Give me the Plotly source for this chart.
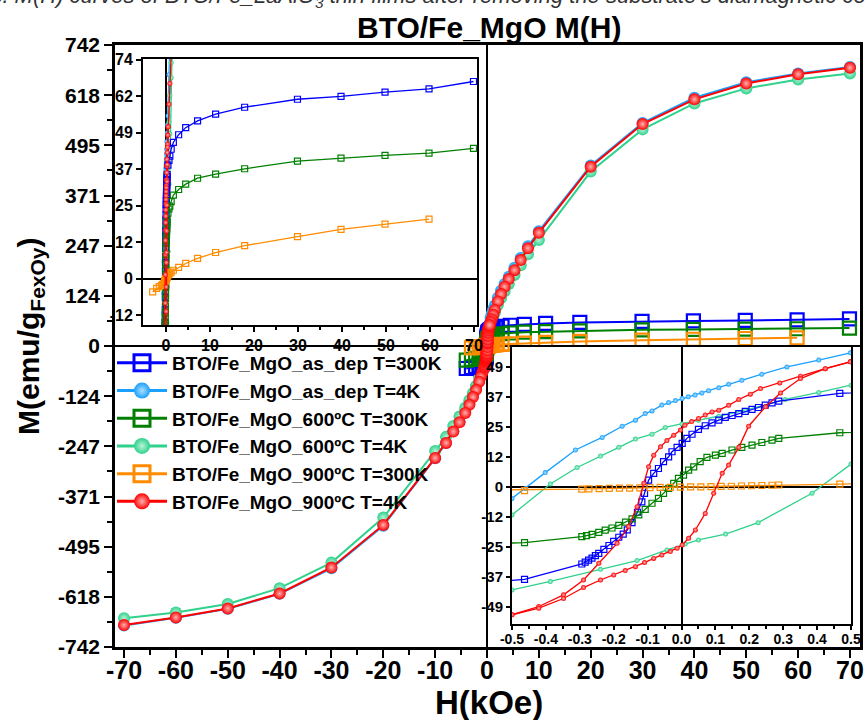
import plotly.graph_objects as go

W, H = 865, 720

# ---------------------------------------------------------------
# Field sweeps, H in kOe, M in emu/g(FexOy)
# ---------------------------------------------------------------
# 300 K sweeps (descending field)
H_asdep_300 = [69.9, 59.8, 49.8, 39.8, 29.9, 17.9, 11.3, 7.2, 4.5, 2.9, 1.7, 1.2, 0.9, 0.7,
               0.467, 0.287, 0.267, 0.247, 0.227, 0.208, 0.188, 0.169, 0.149, 0.129, 0.110,
               0.090, 0.070, 0.050, 0.031, 0.016, 0.002, -0.013, -0.028, -0.038, -0.053,
               -0.068, -0.082, -0.097, -0.109, -0.117, -0.130, -0.146, -0.160, -0.172,
               -0.185, -0.200, -0.214, -0.229, -0.244, -0.254, -0.264, -0.274, -0.284,
               -0.294, -0.463, -0.7, -1.0, -1.5, -2.2, -3.0, -4.0]
M_asdep_300 = [66.7, 64.2, 63.1, 61.7, 60.7, 58.0, 55.7, 53.4, 51.1, 48.7, 46.1, 43.8, 41.5, 40.0,
               38.4, 35.2, 34.5, 33.6, 32.6, 31.8, 31.0, 30.1, 29.3, 28.5, 27.4,
               26.3, 25.1, 23.6, 21.6, 19.9, 17.8, 16.2, 14.4, 12.3, 10.3,
               7.5, 5.5, 2.7, -2.7, -6.2, -10.5, -14.8, -17.8, -19.5,
               -20.8, -22.5, -24.2, -25.8, -27.4, -28.4, -29.4, -30.2, -31.0,
               -31.8, -38.1, -41.5, -44.5, -47.5, -50.5, -53.0, -55.5]

H_600_300 = [69.9, 59.8, 49.8, 39.8, 29.9, 17.9, 11.3, 7.2, 4.5, 2.9, 1.7, 1.2, 0.9, 0.7,
             0.467, 0.287, 0.267, 0.237, 0.208, 0.178, 0.149, 0.120, 0.100, 0.075, 0.055,
             0.036, 0.021, 0.006, -0.009, -0.023, -0.038, -0.053, -0.068, -0.087, -0.107,
             -0.126, -0.146, -0.165, -0.185, -0.205, -0.225, -0.244, -0.264, -0.280,
             -0.294, -0.463, -0.7, -1.0, -1.5, -2.2, -3.0, -4.0]
M_600_300 = [44.1, 42.5, 41.7, 40.8, 39.8, 37.2, 35.4, 34.0, 32.0, 30.2, 28.3, 26.1, 24.6, 23.6,
             22.2, 19.9, 19.2, 18.2, 17.1, 16.2, 15.1, 13.7, 13.0, 12.1, 10.3,
             8.2, 6.8, 4.8, 3.4, 1.4, -0.7, -2.7, -4.8, -6.8, -9.3,
             -11.6, -13.2, -14.6, -15.9, -17.0, -17.9, -18.8, -19.6, -20.1,
             -20.5, -23.0, -24.8, -26.8, -29.0, -31.2, -33.2, -35.0]

H_900_300 = [59.8, 49.8, 39.8, 29.9, 17.9, 11.3, 7.2, 4.5, 2.9, 1.7, 1.2, 0.9, 0.7,
             0.467, 0.287, 0.267, 0.237, 0.207, 0.177, 0.147, 0.117, 0.087, 0.057, 0.027,
             -0.003, -0.033, -0.063, -0.093, -0.123, -0.153, -0.183, -0.213, -0.243,
             -0.273, -0.294, -0.463, -0.7, -1.0, -1.5, -2.1, -3.0]
M_900_300 = [20.2, 18.5, 16.7, 14.3, 11.2, 8.9, 6.9, 5.2, 3.9, 2.9, 2.3, 1.9, 1.6,
             1.1, 0.7, 0.6, 0.5, 0.4, 0.3, 0.2, 0.1, 0.0, -0.1, -0.1,
             -0.2, -0.3, -0.3, -0.4, -0.5, -0.6, -0.6, -0.7, -0.8,
             -0.9, -1.0, -1.6, -1.9, -2.2, -2.6, -3.2, -4.4]

# 4 K loops: descending branch (+70 -> -70) and ascending inner branch
H_asdep_4_dn = [70, 60, 50, 40, 30, 20, 10, 7.9, 6.5, 5.3, 4.2, 3.4, 2.7, 2.1, 1.5, 1.2, 0.9, 0.7,
                0.498, 0.405, 0.311, 0.237, 0.178, 0.139, 0.110, 0.080, 0.060, 0.040, 0.020,
                0.002, -0.018, -0.038, -0.058, -0.087, -0.107, -0.136, -0.175, -0.234, -0.313,
                -0.402, -0.46, -0.5, -0.7, -0.9, -1.2, -1.5, -2.1, -2.7, -3.4, -4.2, -5.3,
                -6.5, -7.9, -10, -20, -30, -40, -50, -60, -70]
M_asdep_4_dn = [688, 672, 650, 612, 550, 445, 283, 246, 217, 193, 171, 153, 136, 119, 100, 90, 79, 69,
                55.1, 52.1, 49.3, 46.3, 43.8, 42.2, 40.7, 39.5, 38.6, 37.7, 37.0,
                36.3, 35.5, 34.7, 33.6, 31.2, 30.1, 27.4, 24.9, 20.3, 15.1,
                5.8, -0.7, -4.8, -22, -38, -57, -74, -99, -120, -141, -162, -186,
                -210, -239, -277, -443, -548, -611, -648, -670, -689]

H_600_4_dn = [70, 60, 50, 40, 30, 20, 10, 7.9, 6.5, 5.3, 4.2, 3.4, 2.7, 2.1, 1.5, 1.2, 0.9, 0.7,
              0.5, 0.405, 0.306, 0.188, 0.11, 0.05, 0.0015, -0.048, -0.087, -0.136, -0.185,
              -0.239, -0.308, -0.387, -0.5, -0.7, -0.9, -1.2, -1.5, -2.1, -2.7, -3.4, -4.2,
              -5.3, -6.5, -7.9, -10, -20, -30, -40, -50, -60, -70]
M_600_4_dn = [672, 657, 635, 598, 534, 430, 261, 226, 199, 175, 153, 135, 118, 101, 83, 73, 62, 53,
              41.8, 38.8, 35.9, 31.5, 29.0, 27.4, 25.8, 24.4, 21.6, 19.6, 16.2,
              12.6, 7.9, 1.1, -11.6, -31, -47, -64, -79, -99, -116, -134, -152,
              -174, -197, -224, -259, -423, -534, -597, -636, -657, -671]
H_600_4_up = [-1.2, -0.9, -0.7, -0.5, -0.387, -0.239, -0.131, -0.043, 0.011, 0.05, 0.13,
              0.226, 0.385, 0.5, 0.7, 0.9, 1.2, 1.5]
M_600_4_up = [-64, -55, -49, -42.5, -39.0, -34.0, -30.4, -26.0, -23.6, -21.9, -19.5,
              -14.8, -2.7, 9.3, 32, 49, 68, 83]

H_900_4_dn = [70, 60, 50, 40, 30, 20, 10, 7.9, 6.5, 5.3, 4.2, 3.4, 2.7, 2.1, 1.5, 1.2, 0.9, 0.7,
              0.498, 0.424, 0.351, 0.29, 0.233, 0.203, 0.169, 0.139, 0.11, 0.09, 0.07, 0.05,
              0.03, 0.01, -0.003, -0.023, -0.043, -0.062, -0.082, -0.097, -0.111, -0.131,
              -0.156, -0.19, -0.244, -0.289, -0.348, -0.421, -0.5, -0.7, -0.9, -1.2, -1.5,
              -2.1, -2.7, -3.4, -4.2, -5.3, -6.5, -7.9, -10, -20, -30, -40, -50, -60, -70]
M_900_4_dn = [686, 670, 647, 608, 547, 442, 279, 241, 212, 187, 165, 146, 128, 110, 89, 77, 66, 59,
              51.4, 48.6, 45.5, 42.7, 40.4, 38.1, 35.9, 33.5, 31.5, 30.8, 29.5, 28.1,
              26.8, 25.3, 23.3, 21.2, 19.0, 16.4, 13.0, 8.2, 1.4, -8.2,
              -16.4, -23.3, -31.5, -38.4, -44.5, -49.3, -52.7, -59, -66, -76, -88,
              -108, -126, -145, -165, -188, -211, -239, -276, -441, -546, -610, -647, -669, -688]
H_900_4_up = [-0.5, -0.421, -0.348, -0.289, -0.239, -0.2, -0.166, -0.136, -0.109, -0.082,
              -0.058, -0.033, -0.013, 0.002, 0.021, 0.041, 0.07, 0.095, 0.12, 0.139, 0.169,
              0.198, 0.248, 0.292, 0.351, 0.424, 0.498]
M_900_4_up = [-52.7, -50.0, -46.0, -41.5, -38.4, -36.3, -34.5, -32.9, -31.2, -29.5,
              -28.1, -26.7, -25.3, -24.0, -21.2, -17.8, -11.0, -2.7, 5.5, 8.9, 16.2,
              24.9, 32.9, 38.6, 44.5, 48.6, 51.4]

SERIES_NAMES = ["BTO/Fe_MgO_as_dep T=300K", "BTO/Fe_MgO_as_dep T=4K",
                "BTO/Fe_MgO_600ºC T=300K", "BTO/Fe_MgO_600ºC T=4K",
                "BTO/Fe_MgO_900ºC T=300K", "BTO/Fe_MgO_900ºC T=4K"]

# axis ticks
MAIN_X_TICKS = [-70, -60, -50, -40, -30, -20, -10, 0, 10, 20, 30, 40, 50, 60, 70]
MAIN_Y_MAX = 742
MAIN_Y_LABELS = ["-742", "-618", "-495", "-371", "-247", "-124", "0",
                 "124", "247", "371", "495", "618", "742"]
INSET_Y_STEP = 74 / 6
INSET1_X_TICKS = [0, 10, 20, 30, 40, 50, 60, 70]
INSET1_Y_LABELS = ["-12", "0", "12", "25", "37", "49", "62", "74"]
INSET2_X_TICKS = [-0.5, -0.4, -0.3, -0.2, -0.1, 0.0, 0.1, 0.2, 0.3, 0.4, 0.5]
INSET2_Y_LABELS = ["-49", "-37", "-25", "-12", "0", "12", "25", "37", "49"]


def join(*branches):
    """Concatenate sweep branches with a gap so they are not connected."""
    out = []
    for i, b in enumerate(branches):
        if i:
            out.append(None)
        out.extend(b)
    return out


BLUE, SKY = "#0000FF", "#1AA0FF"
GREEN, MINT = "#008000", "#2FD18C"
ORANGE, RED = "#FF8C00", "#FF0000"

series = [
    dict(name=SERIES_NAMES[1], h=H_asdep_4_dn, m=M_asdep_4_dn, c=SKY, hi="#aee0ff", kind="sphere"),
    dict(name=SERIES_NAMES[3], h=join(H_600_4_dn, H_600_4_up), m=join(M_600_4_dn, M_600_4_up),
         c=MINT, hi="#b8f5d8", kind="sphere"),
    dict(name=SERIES_NAMES[0], h=H_asdep_300, m=M_asdep_300, c=BLUE, kind="square"),
    dict(name=SERIES_NAMES[2], h=H_600_300, m=M_600_300, c=GREEN, kind="square"),
    dict(name=SERIES_NAMES[4], h=H_900_300, m=M_900_300, c=ORANGE, kind="square"),
    dict(name=SERIES_NAMES[5], h=join(H_900_4_dn, H_900_4_up), m=join(M_900_4_dn, M_900_4_up),
         c=RED, hi="#ffb3b3", kind="sphere"),
]

FONT = "Liberation Sans, Arial, sans-serif"


def px_x(p):
    return p / W


def px_y(p):
    return 1 - p / H


def marker_style(s, size, lw):
    if s["kind"] == "square":
        return dict(symbol="square-open", size=size, color=s["c"], line=dict(width=lw, color=s["c"]))
    return dict(symbol="circle", size=size - 1, color=s["c"],
                gradient=dict(type="radial", color=s["hi"]), line=dict(width=0))


fig = go.Figure()

# one copy of every sweep per panel: main, upper-left zoom, lower-right zoom
panels = [("x", "y", 13, 2.2, 2.0), ("x2", "y2", 6, 1.2, 1.3), ("x3", "y3", 6, 1.2, 1.3)]
for xa, ya, msize, mlw, llw in panels:
    for s in series:
        fig.add_trace(go.Scatter(
            x=s["h"], y=s["m"], xaxis=xa, yaxis=ya, mode="lines+markers",
            line=dict(color=s["c"], width=llw),
            marker=marker_style(s, msize, mlw),
            showlegend=False, hoverinfo="skip"))

# legend entries
legend_style = {0: (BLUE, None, "square"), 1: (SKY, "#aee0ff", "sphere"),
                2: (GREEN, None, "square"), 3: (MINT, "#b8f5d8", "sphere"),
                4: (ORANGE, None, "square"), 5: (RED, "#ffb3b3", "sphere")}
for i, name in enumerate(SERIES_NAMES):
    c, hi, kind = legend_style[i]
    mk = marker_style(dict(c=c, hi=hi, kind=kind), 17, 3)
    fig.add_trace(go.Scatter(x=[None], y=[None], xaxis="x", yaxis="y", mode="lines+markers",
                             name=name, line=dict(color=c, width=3), marker=mk))

bold = dict(family=FONT, color="black", weight="bold")

frame = dict(showline=True, linecolor="black", mirror=True, showgrid=False, automargin=False,
             ticks="outside", tickcolor="black", zeroline=True, zerolinecolor="black",
             ticklabeloverflow="allow")

main_y_vals = [MAIN_Y_MAX * k / 6 for k in range(-6, 7)]
main_y_minor = [MAIN_Y_MAX * (k + 0.5) / 6 for k in range(-6, 6)]
inset1_y_vals = [INSET_Y_STEP * k for k in range(-1, 7)]
inset2_y_vals = [INSET_Y_STEP * k for k in range(-4, 5)]

fig.update_layout(
    width=W, height=H, margin=dict(l=0, r=0, t=0, b=0, autoexpand=False),
    paper_bgcolor="white", plot_bgcolor="white",
    xaxis=dict(**frame, domain=[px_x(115), px_x(860)], range=[-71.74, 71.93], anchor="y",
               linewidth=2.5, zerolinewidth=2,
               tickmode="array", tickvals=MAIN_X_TICKS, ticktext=[str(v) for v in MAIN_X_TICKS],
               ticklen=8, tickwidth=2, tickfont=dict(bold, size=25), ticklabelstandoff=-9,
               minor=dict(tickvals=[v + 5 for v in MAIN_X_TICKS[:-1]], ticklen=5, tickwidth=2,
                          ticks="outside", tickcolor="black")),
    yaxis=dict(**frame, domain=[px_y(647), px_y(45)], range=[-MAIN_Y_MAX, MAIN_Y_MAX], anchor="x",
               linewidth=2.5, zerolinewidth=2,
               tickmode="array", tickvals=main_y_vals, ticktext=MAIN_Y_LABELS,
               ticklen=8, tickwidth=2, tickfont=dict(bold, size=21),
               minor=dict(tickvals=main_y_minor, ticklen=5, tickwidth=2,
                          ticks="outside", tickcolor="black")),
    xaxis2=dict(**frame, domain=[px_x(143), px_x(477)], range=[-5.2, 70.7], anchor="y2",
                linewidth=2, zerolinewidth=1.5,
                tickmode="array", tickvals=INSET1_X_TICKS, ticktext=[str(v) for v in INSET1_X_TICKS],
                ticklen=5, tickwidth=1.5, tickfont=dict(bold, size=16),
                minor=dict(tickvals=[v + 5 for v in INSET1_X_TICKS[:-1]], ticklen=3, tickwidth=1.5,
                           ticks="outside", tickcolor="black")),
    yaxis2=dict(**frame, domain=[px_y(325), px_y(59)], range=[-15.6, 74.3], anchor="x2",
                linewidth=2, zerolinewidth=1.5,
                tickmode="array", tickvals=inset1_y_vals, ticktext=INSET1_Y_LABELS,
                ticklen=5, tickwidth=1.5, tickfont=dict(bold, size=16)),
    xaxis3=dict(**frame, domain=[px_x(512), px_x(851)], range=[-0.5, 0.5], anchor="y3",
                linewidth=2, zerolinewidth=1.5,
                tickmode="array", tickvals=INSET2_X_TICKS, ticktext=[f"{v:.1f}" for v in INSET2_X_TICKS],
                ticklen=4, tickwidth=1.5, tickfont=dict(bold, size=14), ticklabelstandoff=-3,
                minor=dict(tickvals=[v + 0.05 for v in INSET2_X_TICKS[:-1]], ticklen=3, tickwidth=1.5,
                           ticks="outside", tickcolor="black")),
    yaxis3=dict(**frame, domain=[px_y(624), px_y(347)], range=[-56.5, 57.5], anchor="x3",
                linewidth=2, zerolinewidth=1.5,
                tickmode="array", tickvals=inset2_y_vals, ticktext=INSET2_Y_LABELS,
                ticklen=4, tickwidth=1.5, tickfont=dict(bold, size=15)),
    legend=dict(x=px_x(112), y=px_y(344), xanchor="left", yanchor="top",
                bgcolor="rgba(0,0,0,0)", font=dict(bold, size=19),
                tracegroupgap=0, itemwidth=50),
    annotations=[
        dict(text="BTO/Fe_MgO M(H)", x=px_x(489), y=px_y(28), xref="paper", yref="paper",
             xanchor="center", yanchor="middle", showarrow=False, font=dict(bold, size=30)),
        dict(text="H(kOe)", x=px_x(489), y=px_y(702), xref="paper", yref="paper",
             xanchor="center", yanchor="middle", showarrow=False, font=dict(bold, size=33)),
        dict(text="M(emu/g<sub>FexOy</sub>)", x=px_x(30), y=px_y(336), xref="paper", yref="paper",
             xanchor="center", yanchor="middle", showarrow=False, textangle=-90,
             font=dict(bold, size=30)),
        dict(text="Figure S3. M(H) curves of BTO/Fe_LaAlO<sub>3</sub> thin films after removing "
                  "the substrate's diamagnetic contribution",
             x=px_x(-95), y=px_y(-3), xref="paper", yref="paper", xanchor="left", yanchor="middle",
             showarrow=False, font=dict(family=FONT, size=22, style="italic", color="#333333")),
    ],
)

fig.write_html("out.html")
